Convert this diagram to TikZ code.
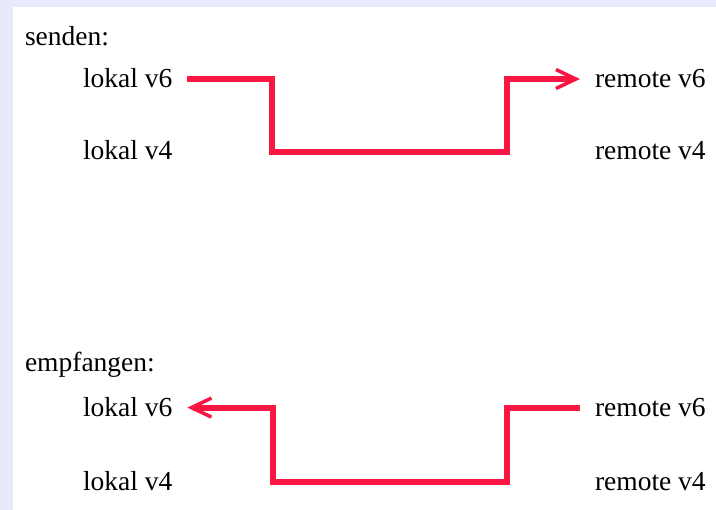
\documentclass[tikz,border=0pt]{standalone}
\usepackage{fontspec}
\setmainfont{Liberation Serif}
\usetikzlibrary{arrows.meta}
\definecolor{pathred}{RGB}{250,22,66}
\definecolor{bandblue}{RGB}{230,234,250}
\begin{document}
\begin{tikzpicture}[x=1pt, y=-1pt,
			every node/.style={font=\fontsize{27.5}{30}\selectfont, inner sep=0pt, outer xsep=15pt, anchor=base west},
			route/.style={draw=pathred, line width=6pt, -{Straight Barb[length=20pt, width=19pt, line width=3.5pt]}}
			]
			
			% Background
			\fill[bandblue] (0,0) rectangle (716,510);
			\fill[white] (13,7) rectangle (716,510);
			\useasboundingbox (0,0) rectangle (716,510);
			
			% Nodes
			\node (send) at (10,46) {senden:};
			\node (ls6) at (68,88) {lokal v6};
			\node (ls4) at (68,160) {lokal v4};
			\node (rs6) at (580,88) {remote v6};
			\node (rs4) at (580,160) {remote v4};
			
			\node (recv) at (10,372) {empfangen:};
			\node (lr6) at (68,417) {lokal v6};
			\node (lr4) at (68,491) {lokal v4};
			\node (rr6) at (580,417) {remote v6};
			\node (rr4) at (580,491) {remote v4};
			
			% Edges
			\draw[route] (ls6.east) -| (272,152) -- (507,152) |- (rs6.west);
			\draw[route] (rr6.west) -| (507,482) -- (273,482) |- (lr6.east);
			
		\end{tikzpicture}
\end{document}
